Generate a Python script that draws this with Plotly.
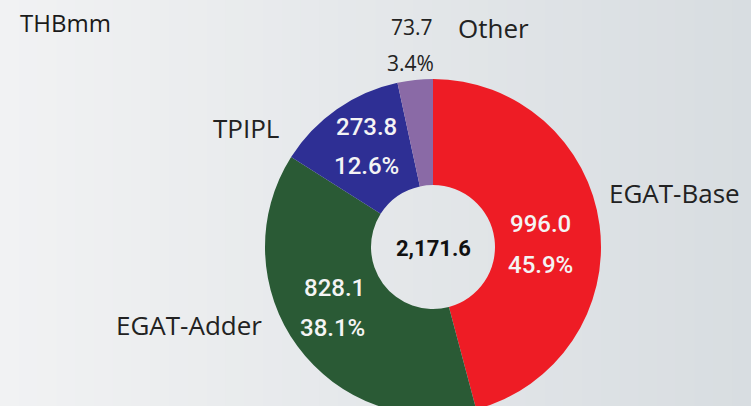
import plotly.graph_objects as go

categories = ["EGAT-Base", "EGAT-Adder", "TPIPL", "Other"]
values = [996.0, 828.1, 273.8, 73.7]
colors = ["#ee1c25", "#2a5a35", "#2e2f94", "#8a6aa6"]
unit_label = "THBmm"

total = sum(values)
pcts = [v / total * 100 for v in values]

W = 751
cx, cy, R = 433, 247, 168
TOP = cy - R
H = cy + R
PH = H - TOP  # plot-area height

fig = go.Figure()

fig.add_trace(go.Pie(
    labels=categories,
    values=values,
    textinfo="none",
    marker=dict(colors=colors, line=dict(width=0)),
    hole=62 / R,
    sort=False,
    direction="clockwise",
    rotation=0,
    showlegend=False,
    domain=dict(x=[(cx - R) / W, (cx + R) / W], y=[0, 1]),
))

# background gradient (style only)
n = 40
c0 = (0xf1, 0xf2, 0xf3)
c1 = (0xd8, 0xdd, 0xe1)
shapes = []
for k in range(n):
    t = k / (n - 1)
    col = tuple(int(round(c0[j] + (c1[j] - c0[j]) * t)) for j in range(3))
    shapes.append(dict(type="rect", xref="paper", yref="paper",
                       x0=k / n, x1=(k + 1) / n + 0.002, y0=-0.5, y1=1.5,
                       fillcolor="rgb(%d,%d,%d)" % col, line=dict(width=0),
                       layer="below"))

lab_font = dict(family="Open Sans", size=26, color="#222222")
num_font = dict(family="Open Sans", size=21, color="#222222")
in_font = dict(family="Roboto", size=24, color="#f4f4f4", weight=500)

# inside-label positions (layout) for slices 0..2
in_pos = {
    0: dict(x=540, y1=224, y2=265, xanchor="center"),
    1: dict(x=367, y1=288, y2=328, xanchor="right"),
    2: dict(x=366, y1=127, y2=166, xanchor="center"),
}

anns = [
    dict(text=unit_label, x=18, y=23, font=dict(family="Open Sans", size=24, color="#1a1a1a"), xanchor="left"),
    dict(text=categories[0], x=607, y=193, font=lab_font, xanchor="left"),
    dict(text=categories[1], x=264, y=325, font=lab_font, xanchor="right"),
    dict(text=categories[2], x=281, y=128, font=lab_font, xanchor="right"),
    dict(text=categories[3], x=456, y=28, font=lab_font, xanchor="left"),
    dict(text=f"{values[3]:.1f}", x=412, y=27, font=num_font, xanchor="center"),
    dict(text=f"{pcts[3]:.1f}%", x=410, y=63, font=num_font, xanchor="center"),
    dict(text=f"<b>{total:,.1f}</b>", x=cx, y=cy + 1, font=dict(family="Roboto", size=22, color="#111111"), xanchor="center"),
]
for i, p in in_pos.items():
    anns.append(dict(text=f"{values[i]:,.1f}", x=p["x"], y=p["y1"], font=in_font, xanchor=p["xanchor"]))
    anns.append(dict(text=f"{pcts[i]:.1f}%", x=p["x"], y=p["y2"], font=in_font, xanchor=p["xanchor"]))

annotations = []
for a in anns:
    a = dict(a)
    a["y"] = (H - a["y"]) / PH
    a["x"] = a["x"] / W
    a.update(xref="paper", yref="paper", showarrow=False, yanchor="middle")
    annotations.append(a)

fig.update_layout(
    width=W, height=H,
    margin=dict(l=0, r=0, t=TOP, b=0),
    paper_bgcolor="#e6e8ea",
    plot_bgcolor="rgba(0,0,0,0)",
    shapes=shapes,
    annotations=annotations,
)

fig.write_html("out.html", config={"displayModeBar": False},
               post_script="document.body.style.margin='0';document.body.style.overflow='hidden';")
